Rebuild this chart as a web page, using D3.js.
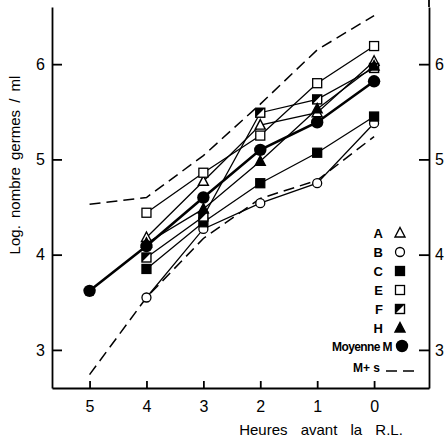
<!DOCTYPE html>
<html>
<head>
<meta charset="utf-8">
<script src="https://cdn.jsdelivr.net/npm/d3@7/dist/d3.min.js"></script>
<style>
  body { margin: 0; background: #fff; }
  text { font-family: "Liberation Sans", Arial, sans-serif; fill: #000; }
</style>
</head>
<body>
<div id="chart"></div>
<script>
// hours before R.L. (x axis runs from 5 down to 0)
const hours = [5, 4, 3, 2, 1, 0];
const tickLabelsX = ["5", "4", "3", "2", "1", "0"];
const tickValuesY = [3, 4, 5, 6];

// log count of germs / ml per subject (no value at 5 h)
const serieA = [null, 4.18, 4.77, 5.36, 5.49, 6.03];
const serieB = [null, 3.55, 4.27, 4.54, 4.75, 5.38];
const serieC = [null, 3.85, 4.34, 4.75, 5.07, 5.45];
const serieE = [null, 4.44, 4.86, 5.25, 5.80, 6.19];
const serieF = [null, 3.97, 4.40, 5.49, 5.63, 5.96];
const serieH = [null, 4.12, 4.48, 4.98, 5.53, 5.98];
const moyenne = [3.62, 4.09, 4.60, 5.10, 5.39, 5.82];
const upperS = [4.53, 4.60, 5.04, 5.58, 6.15, 6.51];
const lowerS = [2.74, 3.55, 4.17, 4.59, 4.78, 5.24];

const series = [
  { name: "A", values: serieA, symbol: "triOpen" },
  { name: "B", values: serieB, symbol: "circleOpen" },
  { name: "C", values: serieC, symbol: "squareFilled" },
  { name: "E", values: serieE, symbol: "squareOpen" },
  { name: "F", values: serieF, symbol: "squareHalf" },
  { name: "H", values: serieH, symbol: "triFilled" }
];

const W = 447, H = 439;
const frame = { left: 52, right: 429, top: 7, bottom: 388 };

const svg = d3.select("#chart").append("svg")
  .attr("width", W).attr("height", H);

const x = d3.scaleLinear().domain([5.66, -0.965]).range([frame.left, frame.right]);
const y = d3.scaleLinear().domain([2.6, 6.6]).range([frame.bottom, frame.top]);

// axes
const axisStyle = g => {
  g.selectAll("path, line").attr("stroke", "#000").attr("stroke-width", 1.8);
  g.selectAll("text").attr("font-size", 16).attr("font-family", "Liberation Sans, Arial, sans-serif");
};

svg.append("g")
  .attr("transform", `translate(${frame.left},0)`)
  .call(d3.axisLeft(y).tickValues(tickValuesY).tickFormat(d3.format("d"))
    .tickSize(-10).tickSizeOuter(0).tickPadding(7))
  .call(axisStyle);

svg.append("g")
  .attr("transform", `translate(${frame.right},0)`)
  .call(d3.axisRight(y).tickValues(tickValuesY).tickFormat(d3.format("d"))
    .tickSize(-10).tickSizeOuter(0).tickPadding(6))
  .call(axisStyle);

// right frame line reaches the top edge
svg.append("line")
  .attr("x1", frame.right).attr("x2", frame.right).attr("y1", 0).attr("y2", frame.top)
  .attr("stroke", "#000").attr("stroke-width", 1.8);

svg.append("g")
  .attr("transform", `translate(0,${frame.bottom})`)
  .call(d3.axisBottom(x).tickValues(hours).tickFormat((d, i) => tickLabelsX[i])
    .tickSize(-7).tickSizeOuter(0).tickPadding(13))
  .call(axisStyle);

// titles
svg.append("text")
  .attr("transform", `translate(20,165) rotate(-90)`)
  .attr("text-anchor", "middle")
  .attr("font-size", 15)
  .attr("word-spacing", 3)
  .text("Log. nombre germes / ml");

svg.append("text")
  .attr("x", 321).attr("y", 435)
  .attr("text-anchor", "middle")
  .attr("font-size", 15)
  .attr("word-spacing", 9)
  .text("Heures avant la R.L.");

// lines
const line = d3.line()
  .defined(d => d[1] != null)
  .x(d => x(d[0]))
  .y(d => y(d[1]));

const pairs = vals => hours.map((h, i) => [h, vals[i]]);

series.forEach(s => {
  svg.append("path")
    .attr("d", line(pairs(s.values)))
    .attr("fill", "none").attr("stroke", "#000").attr("stroke-width", 1.3);
});

[upperS, lowerS].forEach(v => {
  svg.append("path")
    .attr("d", line(pairs(v)))
    .attr("fill", "none").attr("stroke", "#000").attr("stroke-width", 1.5)
    .attr("stroke-dasharray", "11,6");
});

svg.append("path")
  .attr("d", line(pairs(moyenne)))
  .attr("fill", "none").attr("stroke", "#000").attr("stroke-width", 2.6);

// markers
function drawSymbol(g, type, cx, cy) {
  const s = 4.5;
  if (type === "triOpen" || type === "triFilled") {
    g.append("path")
      .attr("d", `M${cx},${cy - 5.5}L${cx + 5},${cy + 4}L${cx - 5},${cy + 4}Z`)
      .attr("fill", type === "triFilled" ? "#000" : "#fff")
      .attr("stroke", "#000").attr("stroke-width", 1.4);
  } else if (type === "circleOpen") {
    g.append("circle").attr("cx", cx).attr("cy", cy).attr("r", 4.5)
      .attr("fill", "#fff").attr("stroke", "#000").attr("stroke-width", 1.3);
  } else if (type === "squareFilled" || type === "squareOpen") {
    g.append("rect").attr("x", cx - s).attr("y", cy - s)
      .attr("width", 2 * s).attr("height", 2 * s)
      .attr("fill", type === "squareFilled" ? "#000" : "#fff")
      .attr("stroke", "#000").attr("stroke-width", 1.3);
  } else if (type === "squareHalf") {
    g.append("rect").attr("x", cx - s).attr("y", cy - s)
      .attr("width", 2 * s).attr("height", 2 * s)
      .attr("fill", "#fff").attr("stroke", "#000").attr("stroke-width", 1.4);
    g.append("path")
      .attr("d", `M${cx - s},${cy - s}L${cx + s},${cy - s}L${cx - s},${cy + s}Z`)
      .attr("fill", "#000");
  } else if (type === "bigCircle") {
    g.append("circle").attr("cx", cx).attr("cy", cy).attr("r", 6.2).attr("fill", "#000");
  }
}

const marks = svg.append("g");
series.forEach(s => {
  hours.forEach((h, i) => {
    if (s.values[i] != null) drawSymbol(marks, s.symbol, x(h), y(s.values[i]));
  });
});
hours.forEach((h, i) => drawSymbol(marks, "bigCircle", x(h), y(moyenne[i])));

// legend
const legendY = [233, 252, 271, 290, 309, 328];
const leg = svg.append("g");
series.forEach((s, i) => {
  leg.append("text")
    .attr("x", 383).attr("y", legendY[i] + 5)
    .attr("text-anchor", "end")
    .attr("font-size", 13).attr("font-weight", "bold")
    .text(s.name);
  drawSymbol(leg, s.symbol, 400, legendY[i]);
});
leg.append("text")
  .attr("x", 392).attr("y", 351)
  .attr("text-anchor", "end")
  .attr("font-size", 12).attr("font-weight", "bold")
  .attr("letter-spacing", -0.6)
  .text("Moyenne M");
drawSymbol(leg, "bigCircle", 402, 346);
leg.append("text")
  .attr("x", 380).attr("y", 372)
  .attr("text-anchor", "end")
  .attr("font-size", 12).attr("font-weight", "bold")
  .text("M+ s");
leg.append("line")
  .attr("x1", 386).attr("x2", 418).attr("y1", 371).attr("y2", 371)
  .attr("stroke", "#000").attr("stroke-width", 1.5)
  .attr("stroke-dasharray", "11,6");
</script>
</body>
</html>
